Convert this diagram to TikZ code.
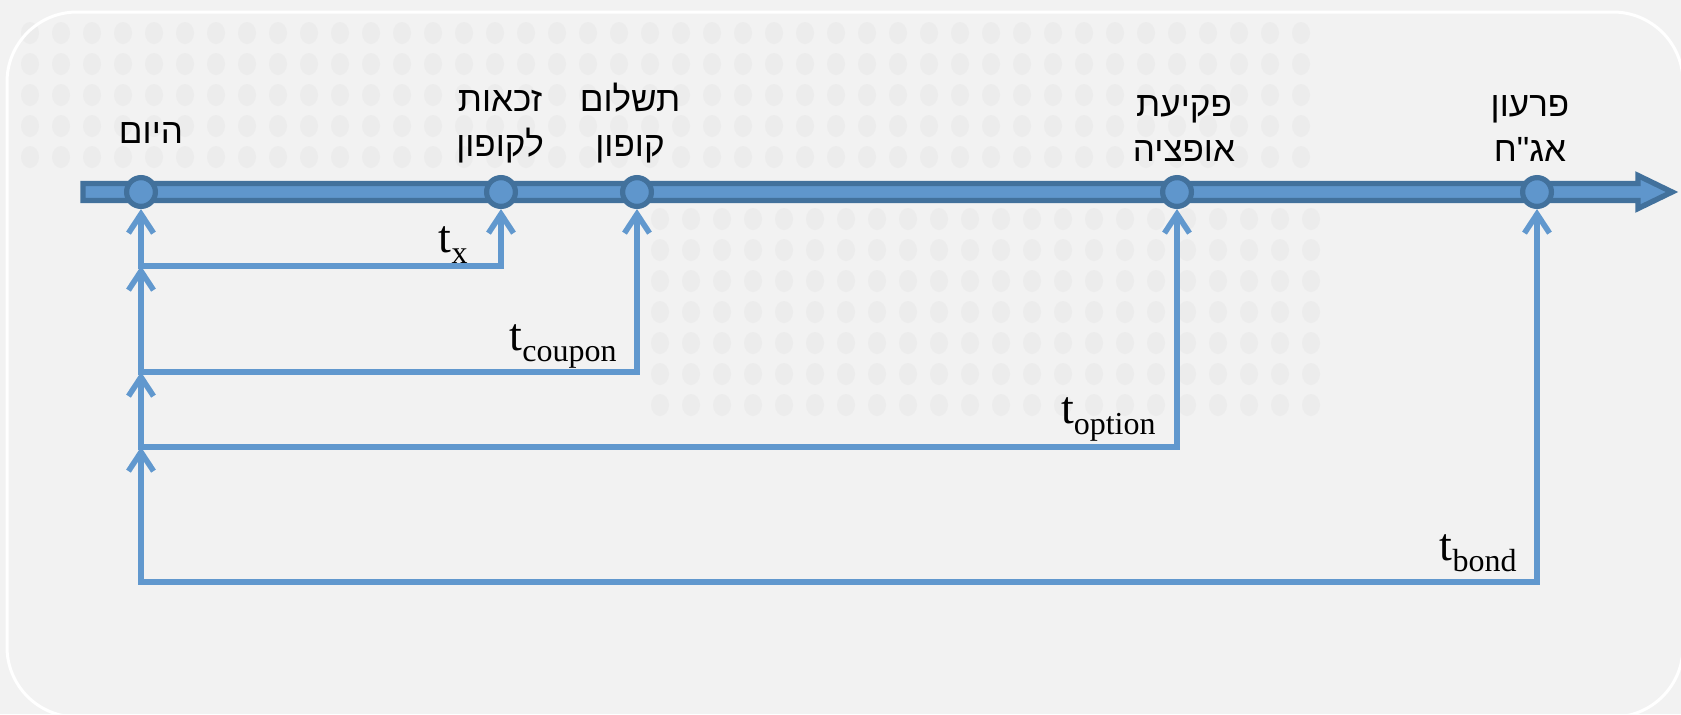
\documentclass[tikz,border=0pt]{standalone}
\usepackage{fontspec}
\usetikzlibrary{arrows.meta}
\setmainfont{Liberation Serif}
\newfontfamily\hebfont[Script=Hebrew]{Liberation Sans}
\TeXXeTstate=1
\definecolor{axisfill}{RGB}{95,150,204}
\definecolor{axisline}{RGB}{66,113,156}
\definecolor{linkblue}{RGB}{97,152,206}
\definecolor{bggray}{RGB}{242,242,242}
\definecolor{bgdot}{RGB}{236,236,236}
\newcommand{\tsub}[1]{t\raisebox{-5.5pt}{\fontsize{16}{16}\selectfont #1}}
\tikzset{
  event/.style={circle,fill=axisfill,draw=axisline,line width=2.6pt,minimum size=14.4pt,inner sep=0pt},
  link/.style={draw=linkblue,line width=2.8pt,line cap=rect,-{Straight Barb[length=9.5pt,width=12.5pt]}},
  heb/.style={font=\hebfont\fontsize{17.5}{22.5}\selectfont,align=center,inner sep=0pt,anchor=south},
  tlabel/.style={font=\fontsize{23}{23}\selectfont,inner sep=0pt,anchor=base east}
}
\begin{document}
\begin{tikzpicture}[x=0.5pt,y=-0.5pt]
  \useasboundingbox (0,0) rectangle (1681,714);
  \fill[bggray] (0,0) rectangle (1681,714);
  \foreach \x in {30,61,...,1320}
    \foreach \y in {33,64,...,157}
      \fill[bgdot] (\x,\y) ellipse (9 and 11);
  \foreach \x in {660,691,...,1320}
    \foreach \y in {219,250,...,405}
      \fill[bgdot] (\x,\y) ellipse (9 and 11);
  \draw[white,line width=1.5pt,rounded corners=35pt] (7,12) rectangle (1683,717);
  % time axis
  \filldraw[fill=axisfill,draw=axisline,line width=2.7pt] (83,183.5) -- (1638,183.5) -- (1638,175.5)
    -- (1672,192) -- (1638,208.5) -- (1638,200.5) -- (83,200.5) -- cycle;
  \node[event] (today) at (141,192) {};
  \node[event] (zchut) at (501,192) {};
  \node[event] (tashlum) at (637,192) {};
  \node[event] (pkia) at (1177,192) {};
  \node[event] (piraon) at (1537,192) {};
  \node[heb,anchor=base] (lhayom) at (151,143) {\beginR היום\endR};
  \node[heb] (lzchut) at (500,170.5) {\beginR זכאות\endR\\\beginR לקופון\endR\strut};
  \node[heb] (ltashlum) at (630,170.5) {\beginR תשלום\endR\\\beginR קופון\endR\strut};
  \node[heb] (lpkia) at (1184,175.5) {\beginR פקיעת\endR\\\beginR אופציה\endR\strut};
  \node[heb] (lpiraon) at (1530,175.5) {\beginR פרעון\endR\\\beginR אג"ח\endR\strut};
  % intervals
  \coordinate (cx) at (141,266);
  \coordinate (ccoupon) at (141,372);
  \coordinate (coption) at (141,447);
  \coordinate (cbond) at (141,582);
  \draw[link] (cx) -- (today);
  \draw[link] (cx) -| (zchut);
  \draw[link] (ccoupon) -- (cx);
  \draw[link] (ccoupon) -| (tashlum);
  \draw[link] (coption) -- (ccoupon);
  \draw[link] (coption) -| (pkia);
  \draw[link] (cbond) -- (coption);
  \draw[link] (cbond) -| (piraon);
  \node[tlabel] (tx) at (468,252) {\tsub{x}};
  \node[tlabel] (tcoupon) at (617,350) {\tsub{coupon}};
  \node[tlabel] (toption) at (1156,423) {\tsub{option}};
  \node[tlabel] (tbond) at (1517,560) {\tsub{bond}};
\end{tikzpicture}
\end{document}
